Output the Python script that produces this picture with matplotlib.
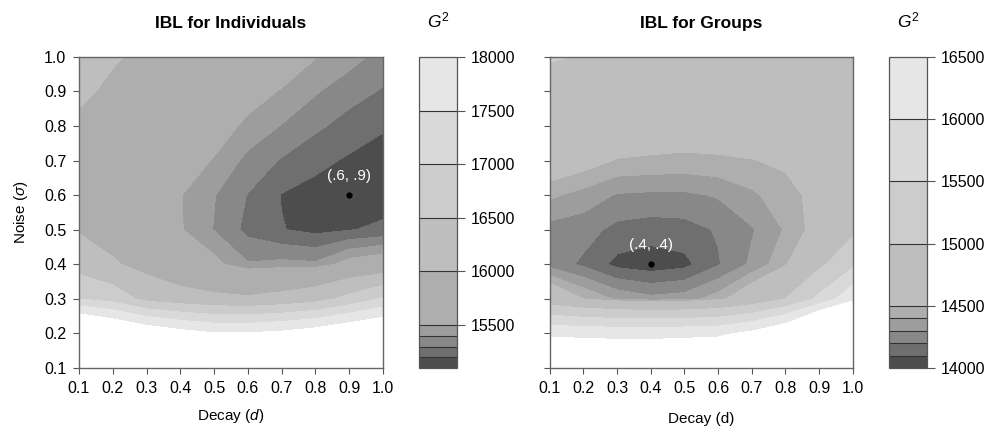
import numpy as np
import matplotlib.pyplot as plt

plt.rcParams['font.family'] = ['Liberation Sans', 'DejaVu Sans']
plt.rcParams['mathtext.fontset'] = 'custom'
plt.rcParams['mathtext.rm'] = 'Liberation Sans'
plt.rcParams['mathtext.it'] = 'Liberation Sans:italic'

decay = [0.1, 0.2, 0.3, 0.4, 0.5, 0.6, 0.7, 0.8, 0.9, 1.0]
noise = [0.1, 0.2, 0.3, 0.4, 0.5, 0.6, 0.7, 0.8, 0.9, 1.0]
tick_labels = ['0.1', '0.2', '0.3', '0.4', '0.5', '0.6', '0.7', '0.8', '0.9', '1.0']

# G^2 fit, one row per noise value (0.1 at the bottom), one column per decay value
ind_g2 = [
    [23000, 22500, 22000, 21800, 21700, 21700, 21800, 22000, 22300, 22600],
    [19500, 19000, 18600, 18300, 18100, 18100, 18200, 18400, 18700, 18940],
    [17000, 16800, 16350, 16200, 16100, 16060, 16150, 16300, 16650, 17050],
    [16300, 16050, 15850, 15650, 15540, 15410, 15430, 15420, 15560, 15620],
    [15960, 15820, 15720, 15510, 15395, 15270, 15205, 15170, 15195, 15220],
    [15850, 15770, 15680, 15505, 15405, 15295, 15195, 15160, 15120, 15150],
    [15850, 15780, 15700, 15580, 15490, 15370, 15290, 15230, 15185, 15160],
    [15900, 15820, 15740, 15660, 15570, 15470, 15395, 15320, 15260, 15210],
    [16100, 15900, 15800, 15740, 15650, 15560, 15490, 15410, 15340, 15290],
    [16300, 16050, 15900, 15820, 15720, 15640, 15590, 15505, 15440, 15360],
]
grp_g2 = [
    [17500, 17500, 17400, 17400, 17450, 17500, 17800, 18500, 20000, 22000],
    [16400, 16380, 16350, 16350, 16380, 16420, 16700, 17200, 18500, 20000],
    [14700, 14500, 14380, 14330, 14350, 14450, 14650, 15000, 15600, 16400],
    [14260, 14180, 14070, 14040, 14070, 14190, 14320, 14480, 14900, 15400],
    [14260, 14240, 14170, 14150, 14160, 14210, 14290, 14410, 14560, 14900],
    [14420, 14360, 14290, 14280, 14280, 14310, 14380, 14460, 14540, 14800],
    [14620, 14560, 14490, 14480, 14470, 14480, 14495, 14520, 14620, 14750],
    [14750, 14700, 14640, 14600, 14590, 14590, 14600, 14640, 14690, 14750],
    [14880, 14820, 14760, 14720, 14700, 14700, 14700, 14720, 14760, 14780],
    [15020, 14990, 14880, 14830, 14800, 14790, 14790, 14800, 14820, 14840],
]

ind_levels = [15100, 15200, 15300, 15400, 15500, 16000, 16500, 17000, 17500, 18000]
ind_ticks = [15500, 16000, 16500, 17000, 17500, 18000]
grp_levels = [14000, 14100, 14200, 14300, 14400, 14500, 15000, 15500, 16000, 16500]
grp_ticks = [14000, 14500, 15000, 15500, 16000, 16500]

greys = ['#4d4d4d', '#6f6f6f', '#888888', '#9d9d9d', '#aeaeae',
         '#bebebe', '#cccccc', '#d9d9d9', '#e6e6e6']

ind_best = (0.9, 0.6)
grp_best = (0.4, 0.4)

fig = plt.figure(figsize=(9.87, 4.34), dpi=100)


def panel(ax, cax, g2, levels, ticks, best, best_label, title, xlabel, xpad, ylabels):
    cs = ax.contourf(decay, noise, np.array(g2), levels=levels, colors=greys)
    ax.plot(best[0], best[1], 'o', color='black', markersize=3.5)
    ax.text(best[0], best[1] + 0.035, best_label, color='white', ha='center',
            va='bottom', fontsize=11)
    ax.set_xlim(0.1, 1.0)
    ax.set_ylim(0.1, 1.0)
    ax.set_xticks(decay)
    ax.set_xticklabels(tick_labels)
    ax.set_yticks(noise)
    ax.set_yticklabels(tick_labels if ylabels else [])
    ax.tick_params(length=4, width=0.8, color='#555555', pad=5, labelsize=11.5)
    for s in ax.spines.values():
        s.set_color('#666666')
        s.set_linewidth(1.0)
    ax.set_title(title, fontweight='bold', fontsize=12.5, pad=21)
    ax.set_xlabel(xlabel, fontsize=11, labelpad=xpad)

    cb = fig.colorbar(cs, cax=cax, spacing='proportional', drawedges=True, ticks=ticks)
    cb.outline.set_edgecolor('#555555')
    cb.outline.set_linewidth(0.9)
    cb.dividers.set_color('#333333')
    cb.dividers.set_linewidth(0.8)
    cax.tick_params(length=6, width=0.8, color='#555555', pad=4, labelsize=11.5)
    cax.set_title('$G^2$', fontsize=12.5, pad=21)


ax1 = fig.add_axes([0.080, 0.152, 0.308, 0.717])
cax1 = fig.add_axes([0.4245, 0.152, 0.0385, 0.717])
ax2 = fig.add_axes([0.557, 0.152, 0.307, 0.717])
cax2 = fig.add_axes([0.9007, 0.152, 0.0385, 0.717])

panel(ax1, cax1, ind_g2, ind_levels, ind_ticks, ind_best, '(.6, .9)',
      'IBL for Individuals', 'Decay ($d$)', 8, True)
ax1.set_ylabel('Noise ($\\sigma$)', fontsize=11, labelpad=10)
panel(ax2, cax2, grp_g2, grp_levels, grp_ticks, grp_best, '(.4, .4)',
      'IBL for Groups', 'Decay (d)', 12, False)

fig.savefig('out.png', dpi=100)
